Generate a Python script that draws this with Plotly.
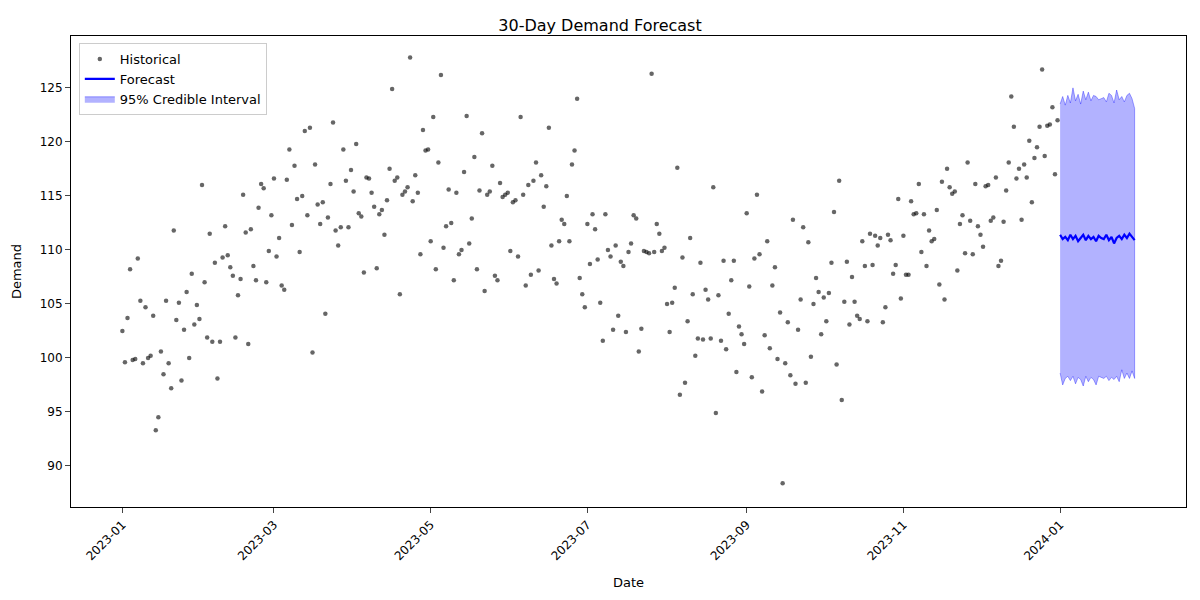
import plotly.graph_objects as go
import pandas as pd

hist_values = [
102.5,99.6,103.7,108.2,99.8,99.9,109.2,105.3,99.5,104.7,100.0,100.2,103.9,93.3,94.5,100.6,98.5,105.3,99.5,97.2,111.8,103.5,105.1,97.9,102.6,106.1,100.0,107.8,103.1,104.9,103.6,
116.0,107.0,101.9,111.5,101.5,108.8,98.1,101.5,109.3,112.2,109.5,108.4,107.6,101.9,105.8,107.3,115.1,111.6,101.3,111.9,108.5,107.2,113.9,116.1,115.7,107.0,109.9,113.2,
116.6,109.4,111.1,106.7,106.3,116.5,119.3,112.3,117.8,114.7,109.8,115.0,121.0,113.2,121.3,100.5,117.9,114.2,112.4,114.4,104.1,113.0,116.1,121.8,111.8,110.4,112.1,119.3,116.4,112.1,117.4,
115.4,119.8,113.4,113.1,107.9,116.7,116.6,115.3,114.0,108.3,113.3,113.7,111.4,114.6,117.5,124.9,116.4,116.7,105.9,115.1,115.4,115.8,127.8,114.5,116.9,115.3,109.6,121.1,119.2,119.3,
110.8,122.3,108.2,118.1,126.2,110.2,112.2,115.6,112.5,107.2,115.3,109.6,110.0,117.2,122.4,110.6,112.9,118.6,108.2,115.5,120.8,106.2,115.1,115.4,117.8,107.6,107.2,116.2,114.9,115.1,115.3,
109.9,114.4,114.6,109.4,122.3,115.1,106.7,116.0,107.7,116.4,118.1,108.1,116.9,114.0,115.9,121.3,110.4,107.3,106.9,110.8,112.8,112.4,115.0,110.8,117.9,119.2,124.0,107.4,105.9,104.7,
112.4,108.7,113.3,111.9,109.1,105.1,101.6,113.3,110.0,109.4,102.6,110.4,103.9,108.9,108.5,102.4,109.8,110.6,113.2,112.9,100.6,102.7,109.9,109.8,109.7,126.3,109.8,112.4,111.5,109.9,110.2,
105.0,102.4,105.1,106.5,117.6,96.6,109.3,97.7,103.4,111.1,105.9,100.2,101.8,108.8,101.7,106.3,105.4,101.8,115.8,94.9,105.8,101.6,109.0,100.8,104.1,107.2,109.0,98.7,102.9,102.2,101.3,
113.4,106.6,98.2,109.2,115.1,109.6,96.9,102.1,110.8,100.9,106.7,108.4,99.9,104.2,88.4,99.5,103.3,98.4,112.8,97.6,102.6,105.4,112.1,97.7,110.7,100.1,105.0,107.4,106.1,102.2,
105.6,103.4,106.0,108.8,113.5,99.4,116.4,96.1,105.2,108.9,103.1,107.5,105.2,103.9,103.6,110.8,108.5,103.4,111.5,108.6,111.3,110.4,111.1,103.3,104.7,111.4,110.9,107.8,108.6,114.7,105.5,
111.3,107.7,107.7,114.5,113.3,113.4,116.1,109.8,113.3,108.5,111.8,110.8,111.0,113.7,106.8,116.3,105.4,117.5,115.8,115.2,115.4,108.1,112.4,113.2,109.7,118.1,112.7,109.6,116.1,112.2,
111.4,110.3,115.9,116.0,112.7,113.0,116.7,108.5,109.0,112.6,115.5,118.1,124.2,121.4,116.6,117.5,112.8,117.9,116.7,120.1,114.4,118.5,119.5,121.4,126.7,118.7,121.5,121.6,123.2,117.0,122.0,
]
hist_dates = pd.date_range("2023-01-01", periods=len(hist_values), freq="D")

fc_mean = [111.4,111.0,111.2,110.9,111.4,111.0,111.3,110.8,111.1,111.4,110.9,111.3,111.0,111.2,110.8,111.3,111.1,111.0,111.4,110.9,111.2,110.6,111.1,111.3,111.0,111.4,111.1,111.5,111.2,110.9]
fc_upper = [123.5,124.2,123.4,124.3,123.6,125.0,123.8,124.4,123.5,124.7,123.9,124.6,123.8,124.3,124.2,123.9,124.0,124.1,123.7,124.5,124.3,123.6,124.8,123.9,124.2,123.7,124.3,124.5,124.0,123.1]
fc_lower = [98.6,97.5,98.1,98.3,97.9,98.3,97.6,98.2,98.0,97.4,98.3,97.8,98.2,98.0,97.5,98.3,98.2,98.1,98.3,97.9,98.2,98.0,98.3,97.8,98.9,98.1,98.6,98.1,98.8,98.1]
fc_dates = pd.date_range("2024-01-01", periods=len(fc_mean), freq="D")

fig = go.Figure()
fig.add_trace(go.Scatter(x=list(fc_dates)+list(fc_dates[::-1]), y=fc_upper+fc_lower[::-1],
    fill="toself", fillcolor="rgba(0,0,255,0.3)", line=dict(color="rgba(0,0,255,0.35)", width=1),
    name="95% Credible Interval", legendrank=3))
fig.add_trace(go.Scatter(x=hist_dates, y=hist_values, mode="markers",
    marker=dict(color="rgba(0,0,0,0.6)", size=4.5), name="Historical", legendrank=1))
fig.add_trace(go.Scatter(x=fc_dates, y=fc_mean, mode="lines", line=dict(color="blue", width=2.2),
    name="Forecast", legendrank=2))

ax = dict(showline=True, linecolor="black", mirror=True, ticks="outside", showgrid=False, zeroline=False,
          tickfont=dict(size=12, color="black"))
fig.update_layout(
    width=1184, height=584, plot_bgcolor="white", paper_bgcolor="white",
    font=dict(family="DejaVu Sans", color="black", size=12),
    title=dict(text="30-Day Demand Forecast", x=0.5, xanchor="center", y=0.98, font=dict(size=16)),
    margin=dict(l=63, r=6, t=28, b=85),
    legend=dict(x=0.007, y=0.985, xanchor="left", yanchor="top", bordercolor="#cccccc", borderwidth=1,
                font=dict(size=13)),
    xaxis=dict(**ax, title=dict(text="Date", font=dict(size=13)), range=["2022-12-12", "2024-02-19"],
               tickvals=["2023-01-01","2023-03-01","2023-05-01","2023-07-01","2023-09-01","2023-11-01","2024-01-01"],
               tickformat="%Y-%m", tickangle=-45),
    yaxis=dict(**ax, title=dict(text="Demand", font=dict(size=13)), range=[86.2, 129.8], dtick=5),
)
fig.write_html("out.html")
